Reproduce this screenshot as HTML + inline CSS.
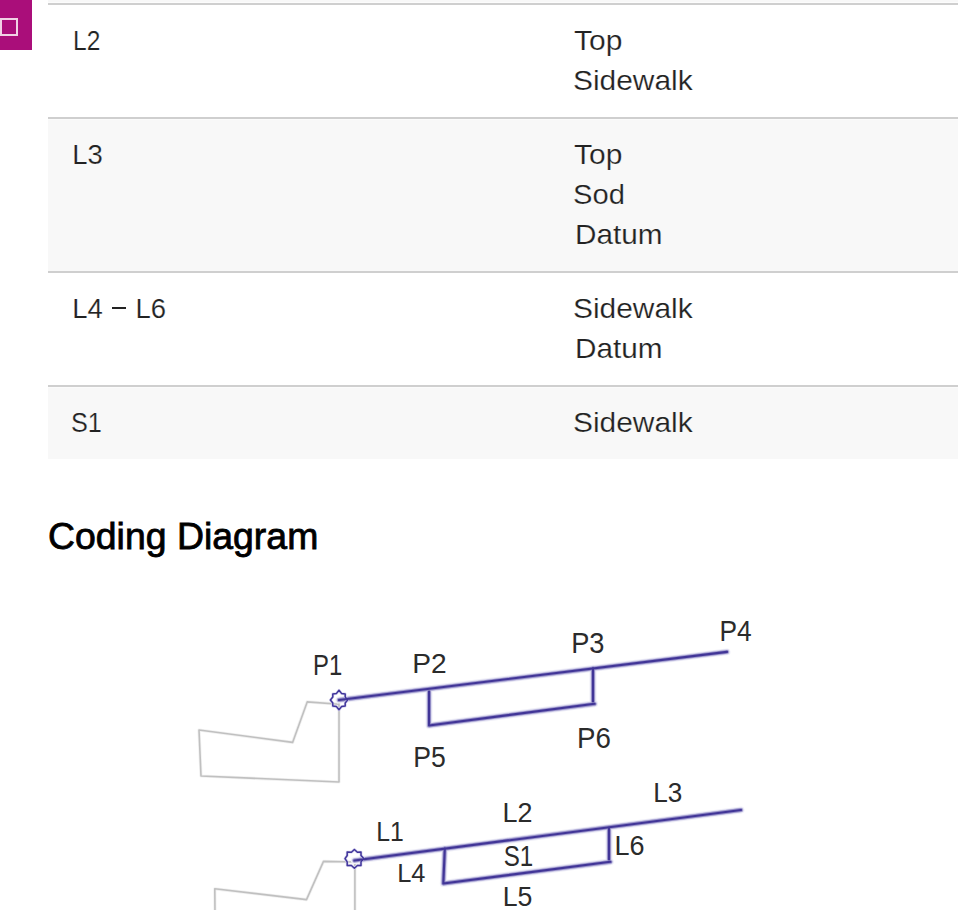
<!DOCTYPE html>
<html><head><meta charset="utf-8"><style>
html,body{margin:0;padding:0;background:#fff;}
body{width:958px;height:910px;overflow:hidden;position:relative;font-family:"Liberation Sans",sans-serif;color:#222;}
.fb{position:absolute;left:0;top:0;width:32px;height:50px;background:#aa0e7a;}
.fb i{position:absolute;left:0;top:18px;width:14px;height:14px;border:2px solid #f0d1e5;}
.bg{position:absolute;left:48px;width:910px;}
.bd{position:absolute;left:48px;width:910px;height:2px;background:#cfcfcf;}
.t{color:#222;-webkit-text-stroke:0.2px #fff;position:absolute;font-size:27.5px;line-height:40px;white-space:nowrap;transform-origin:0 0;height:40px;}
h2{position:absolute;left:48.4px;top:516px;margin:0;font-size:37px;letter-spacing:0;font-weight:normal;-webkit-text-stroke:0.8px #000;color:#000;white-space:nowrap;transform-origin:0 0;line-height:normal;transform:scaleX(1.011);}
svg{position:absolute;left:0;top:0;}
</style></head><body>
<div class="bg" style="top:0;height:2px;background:#f8f8f8"></div>
<div class="bg" style="top:2px;height:1px;background:#fcfcfc"></div>
<div class="bd" style="top:3px"></div>
<div class="bd" style="top:117px"></div>
<div class="bg" style="top:119px;height:1px;background:#fbfbfb"></div>
<div class="bg" style="top:120px;height:151px;background:#f8f8f8"></div>
<div class="bd" style="top:271px"></div>
<div class="bd" style="top:385px"></div>
<div class="bg" style="top:387px;height:1px;background:#fbfbfb"></div>
<div class="bg" style="top:388px;height:71px;background:#f8f8f8"></div>
<div class="t" id="t0" style="transform:scaleX(0.8926);left:73.01px;top:21px">L2</div>
<div class="t" id="t1" style="transform:scaleX(1.09);left:574.12px;top:21px">Top</div>
<div class="t" id="t2" style="transform:scaleX(1.087);left:573.35px;top:61px">Sidewalk</div>
<div class="t" id="t3" style="transform:scaleX(1.0);left:72.27px;top:135px">L3</div>
<div class="t" id="t4" style="transform:scaleX(1.09);left:574.12px;top:135px">Top</div>
<div class="t" id="t5" style="transform:scaleX(1.06);left:573.40px;top:175px">Sod</div>
<div class="t" id="t6" style="transform:scaleX(1.08);left:574.96px;top:215px">Datum</div>
<div class="t" id="t7" style="left:72.20px;top:289px">L4</div><div style="position:absolute;left:112px;top:307.2px;width:13.6px;height:1.9px;background:#222"></div><div class="t" id="t7b" style="left:135.40px;top:289px">L6</div>
<div class="t" id="t8" style="transform:scaleX(1.087);left:573.35px;top:289px">Sidewalk</div>
<div class="t" id="t9" style="transform:scaleX(1.08);left:574.96px;top:329px">Datum</div>
<div class="t" id="t10" style="transform:scaleX(0.9167);left:71.07px;top:403px">S1</div>
<div class="t" id="t11" style="transform:scaleX(1.087);left:573.35px;top:403px">Sidewalk</div>
<div class="fb"><i></i></div>
<h2>Coding Diagram</h2>
<svg width="958" height="910" viewBox="0 0 958 910">
<g fill="none" stroke-linejoin="round" stroke-linecap="round">
<g stroke="#f1f1f1" stroke-width="3.2">
<path d="M339,700 L339,782 L201,776 L199,730 L292.6,742.4 L307.2,701.9 L339,704.2"/>
<path d="M354.9,860 L354.9,915 M215,915 L214.8,888.8 L306.5,899.6 L323.5,861.4 L354.9,862"/>
</g>
<g stroke="#c0c0c0" stroke-width="1.6">
<path d="M339,700 L339,782 L201,776 L199,730 L292.6,742.4 L307.2,701.9 L339,704.2"/>
<path d="M354.9,860 L354.9,915 M215,915 L214.8,888.8 L306.5,899.6 L323.5,861.4 L354.9,862"/>
</g>
<g stroke="#f0f0f8" stroke-width="7">
<path d="M339,700 L727,651.9"/>
<path d="M429.05,691.5 L429.05,725.5 L594.6,703.8"/>
<path d="M593,668.3 L593,701.5"/>
<path d="M354.4,860.5 L741,810"/>
<path d="M444.8,848.5 L443.3,883.5 L610.4,861.8"/>
<path d="M609,827.7 L609,859.5"/>
</g>
<g stroke="#d2d0ea" stroke-width="5.2">
<path d="M339,700 L727,651.9"/>
<path d="M429.05,691.5 L429.05,725.5 L594.6,703.8"/>
<path d="M593,668.3 L593,701.5"/>
<path d="M354.4,860.5 L741,810"/>
<path d="M444.8,848.5 L443.3,883.5 L610.4,861.8"/>
<path d="M609,827.7 L609,859.5"/>
</g>
<g stroke="#9690c8" stroke-width="3.8">
<path d="M339,700 L727,651.9"/>
<path d="M429.05,691.5 L429.05,725.5 L594.6,703.8"/>
<path d="M593,668.3 L593,701.5"/>
<path d="M354.4,860.5 L741,810"/>
<path d="M444.8,848.5 L443.3,883.5 L610.4,861.8"/>
<path d="M609,827.7 L609,859.5"/>
</g>
<g stroke="#d4d1ec" stroke-width="2.8">
<path d="M339,690.3 L341.7,693.6 L345.2,693.9 L345.2,697 L347.6,700 L345.2,703 L345.2,706.1 L341.7,706.4 L339,709.8 L336.3,706.4 L332.8,706.1 L332.8,703 L330.4,700 L332.8,697 L332.8,693.9 L336.3,693.6 Z"/>
<path d="M354.4,849.5 L357.4,852.2 L361,852.1 L361,855.5 L363.8,858.6 L361,861.8 L361,865.5 L357.4,865.5 L354.4,868.2 L351.4,865.5 L347.2,865.5 L347.2,861.8 L345,858.6 L347.2,855.5 L347.2,852.1 L351.4,852.2 Z"/>
</g>
<g stroke="#40359b" stroke-width="1.5">
<path d="M339,690.3 L341.7,693.6 L345.2,693.9 L345.2,697 L347.6,700 L345.2,703 L345.2,706.1 L341.7,706.4 L339,709.8 L336.3,706.4 L332.8,706.1 L332.8,703 L330.4,700 L332.8,697 L332.8,693.9 L336.3,693.6 Z"/>
<path d="M354.4,849.5 L357.4,852.2 L361,852.1 L361,855.5 L363.8,858.6 L361,861.8 L361,865.5 L357.4,865.5 L354.4,868.2 L351.4,865.5 L347.2,865.5 L347.2,861.8 L345,858.6 L347.2,855.5 L347.2,852.1 L351.4,852.2 Z"/>
</g>
<g stroke="#413597" stroke-width="2.1">
<path d="M339,700 L727,651.9"/>
<path d="M429.05,691.5 L429.05,725.5 L594.6,703.8"/>
<path d="M593,668.3 L593,701.5"/>
<path d="M354.4,860.5 L741,810"/>
<path d="M444.8,848.5 L443.3,883.5 L610.4,861.8"/>
<path d="M609,827.7 L609,859.5"/>
</g>
</g>
<g font-family="Liberation Sans, sans-serif" font-size="28" fill="#2b2b2b">
<text transform="translate(313.04,674.90) scale(0.852,1.042)">P1</text>
<text transform="translate(412.18,672.90) scale(1.007,0.984)">P2</text>
<text transform="translate(571.17,653.20) scale(0.973,1.042)">P3</text>
<text transform="translate(719.45,640.90) scale(0.940,1.021)">P4</text>
<text transform="translate(413.23,767.10) scale(0.950,1.053)">P5</text>
<text transform="translate(577.03,748.39) scale(0.990,1.026)">P6</text>
<text transform="translate(376.35,841.00) scale(0.885,0.984)">L1</text>
<text transform="translate(502.52,821.99) scale(0.962,1.011)">L2</text>
<text transform="translate(653.27,802.40) scale(0.933,0.995)">L3</text>
<text transform="translate(397.23,882.41) scale(0.907,0.953)">L4</text>
<text transform="translate(502.75,906.00) scale(0.954,0.995)">L5</text>
<text transform="translate(614.51,854.60) scale(0.965,1.016)">L6</text>
<text transform="translate(503.74,866.49) scale(0.862,1.037)">S1</text>
</g>
</svg>
</body></html>
